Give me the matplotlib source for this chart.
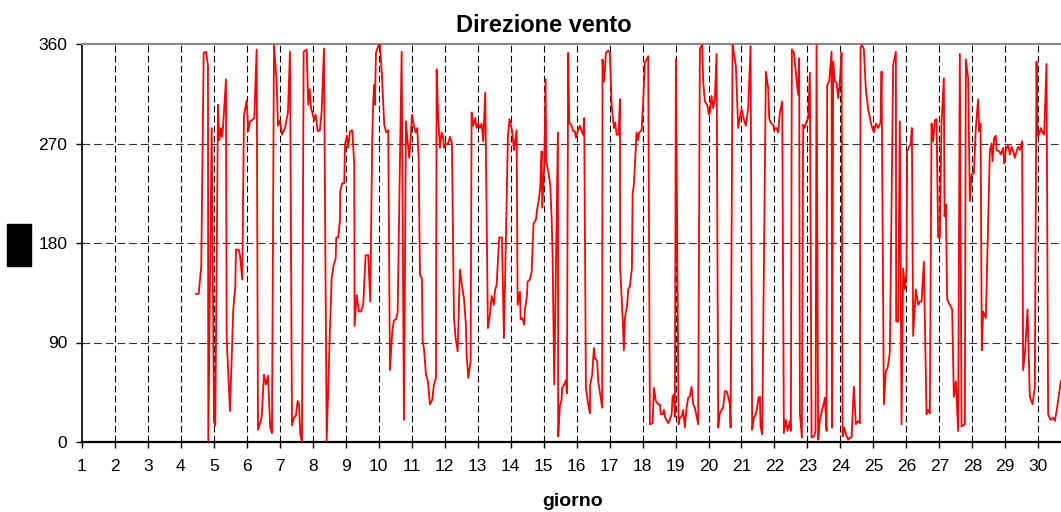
import matplotlib
matplotlib.use("Agg")
import matplotlib.pyplot as plt
from matplotlib.patches import Rectangle

# ======================================================
# DATA  (giorno = day of month, gradi = wind direction)
# ======================================================
giorno = [
    4.457, 4.539, 4.617, 4.690, 4.760, 4.820, 4.830, 4.933, 5.002, 5.042,
    5.124, 5.163, 5.215, 5.245, 5.275, 5.366, 5.387, 5.488, 5.588, 5.648,
    5.669, 5.751, 5.791, 5.860, 5.912, 5.994, 6.042, 6.094, 6.155, 6.224,
    6.297, 6.337, 6.449, 6.518, 6.579, 6.640, 6.709, 6.761, 6.822, 6.903,
    6.943, 7.004, 7.064, 7.155, 7.246, 7.307, 7.368, 7.428, 7.489, 7.540,
    7.580, 7.619, 7.671, 7.722, 7.813, 7.862, 7.904, 7.944, 7.983, 8.044,
    8.086, 8.147, 8.216, 8.268, 8.338, 8.420, 8.520, 8.571, 8.632, 8.693,
    8.711, 8.771, 8.823, 8.832, 8.893, 8.953, 8.975, 9.035, 9.075, 9.126,
    9.196, 9.257, 9.266, 9.329, 9.399, 9.460, 9.529, 9.602, 9.681, 9.742,
    9.802, 9.833, 9.863, 9.884, 9.915, 9.984, 10.036, 10.096, 10.166, 10.227,
    10.287, 10.339, 10.409, 10.460, 10.521, 10.572, 10.694, 10.763, 10.824, 10.864,
    10.924, 10.967, 11.006, 11.067, 11.118, 11.167, 11.209, 11.249, 11.309, 11.331,
    11.370, 11.431, 11.491, 11.552, 11.622, 11.673, 11.734, 11.755, 11.804, 11.855,
    11.907, 11.955, 11.976, 12.037, 12.107, 12.158, 12.219, 12.280, 12.331, 12.392,
    12.461, 12.522, 12.583, 12.643, 12.665, 12.713, 12.786, 12.816, 12.865, 12.925,
    12.968, 13.016, 13.068, 13.119, 13.168, 13.229, 13.310, 13.371, 13.423, 13.492,
    13.523, 13.574, 13.653, 13.735, 13.796, 13.917, 13.968, 14.047, 14.099, 14.181,
    14.211, 14.281, 14.302, 14.351, 14.411, 14.432, 14.493, 14.514, 14.584, 14.636,
    14.696, 14.766, 14.796, 14.848, 14.896, 14.939, 14.957, 15.018, 15.060, 15.078,
    15.139, 15.200, 15.242, 15.272, 15.321, 15.433, 15.442, 15.494, 15.545, 15.563,
    15.624, 15.676, 15.706, 15.745, 15.776, 15.848, 15.897, 15.948, 15.979, 16.030,
    16.100, 16.152, 16.200, 16.230, 16.282, 16.352, 16.403, 16.412, 16.473, 16.525,
    16.555, 16.625, 16.655, 16.776, 16.785, 16.837, 16.888, 16.958, 17.010, 17.061,
    17.131, 17.170, 17.213, 17.273, 17.313, 17.322, 17.395, 17.434, 17.464, 17.534,
    17.565, 17.616, 17.677, 17.698, 17.737, 17.768, 17.819, 17.868, 17.898, 17.971,
    18.019, 18.071, 18.122, 18.171, 18.223, 18.304, 18.344, 18.404, 18.474, 18.526,
    18.556, 18.608, 18.647, 18.687, 18.747, 18.778, 18.829, 18.881, 18.911, 18.950,
    18.981, 19.011, 19.093, 19.132, 19.184, 19.232, 19.284, 19.335, 19.384, 19.435,
    19.487, 19.536, 19.587, 19.687, 19.739, 19.808, 19.839, 19.890, 19.960, 20.012,
    20.042, 20.093, 20.142, 20.193, 20.245, 20.294, 20.345, 20.397, 20.445, 20.497,
    20.548, 20.597, 20.648, 20.670, 20.730, 20.779, 20.830, 20.900, 20.952, 21.003,
    21.073, 21.133, 21.203, 21.276, 21.324, 21.376, 21.437, 21.476, 21.518, 21.558,
    21.579, 21.628, 21.740, 21.810, 21.840, 21.882, 21.961, 21.992, 22.064, 22.113,
    22.164, 22.234, 22.286, 22.346, 22.398, 22.468, 22.498, 22.528, 22.589, 22.650,
    22.719, 22.750, 22.771, 22.831, 22.871, 22.922, 22.974, 23.022, 23.074, 23.126,
    23.195, 23.247, 23.277, 23.326, 23.377, 23.438, 23.498, 23.529, 23.580, 23.599,
    23.659, 23.732, 23.750, 23.781, 23.832, 23.884, 23.932, 23.984, 24.035, 24.066,
    24.114, 24.166, 24.235, 24.287, 24.338, 24.408, 24.469, 24.539, 24.590, 24.611,
    24.660, 24.711, 24.772, 24.842, 24.945, 25.015, 25.075, 25.145, 25.218, 25.248,
    25.318, 25.378, 25.430, 25.479, 25.500, 25.600, 25.682, 25.691, 25.751, 25.803,
    25.854, 25.903, 25.955, 26.006, 26.024, 26.085, 26.127, 26.167, 26.206, 26.288,
    26.358, 26.409, 26.461, 26.531, 26.612, 26.661, 26.713, 26.764, 26.813, 26.864,
    26.916, 26.964, 27.016, 27.067, 27.137, 27.158, 27.198, 27.237, 27.319, 27.389,
    27.440, 27.501, 27.571, 27.622, 27.674, 27.774, 27.804, 27.874, 27.925, 27.977,
    28.047, 28.107, 28.177, 28.207, 28.250, 28.289, 28.329, 28.411, 28.532, 28.583,
    28.614, 28.662, 28.714, 28.735, 28.814, 28.865, 28.935, 28.965, 29.017, 29.087,
    29.138, 29.190, 29.238, 29.290, 29.341, 29.390, 29.441, 29.511, 29.542, 29.602,
    29.675, 29.745, 29.827, 29.896, 29.948, 29.978, 30.027, 30.078, 30.130, 30.178,
    30.251, 30.300, 30.372, 30.451, 30.503, 30.563, 30.685,
]

gradi = [
    134, 134, 159, 352, 353, 341, 1, 284, 19, 15,
    305, 273, 284, 276, 284, 328, 94, 28, 120, 140,
    174, 174, 169, 147, 295, 309, 281, 290, 291, 293,
    355, 11, 22, 61, 52, 60, 13, 8, 359, 326,
    286, 291, 278, 284, 298, 353, 15, 22, 24, 37,
    35, 7, 0, 353, 355, 305, 319, 302, 298, 291,
    296, 281, 282, 299, 356, 1, 102, 148, 160, 166,
    185, 185, 201, 227, 234, 234, 269, 277, 266, 281,
    282, 251, 105, 133, 118, 118, 124, 169, 169, 127,
    275, 309, 323, 305, 352, 358, 360, 332, 287, 280,
    282, 65, 100, 110, 111, 117, 353, 20, 290, 275,
    257, 275, 296, 286, 280, 284, 257, 151, 148, 91,
    85, 61, 55, 34, 38, 52, 58, 337, 293, 266,
    280, 275, 266, 270, 270, 276, 270, 112, 94, 82,
    156, 142, 130, 106, 79, 58, 73, 298, 286, 293,
    284, 288, 284, 288, 272, 316, 103, 115, 132, 124,
    137, 142, 185, 185, 94, 277, 292, 281, 264, 282,
    124, 136, 111, 112, 106, 120, 132, 145, 147, 154,
    198, 201, 209, 218, 230, 263, 212, 249, 328, 254,
    245, 233, 203, 169, 52, 280, 5, 33, 38, 49,
    52, 56, 44, 352, 289, 286, 281, 281, 275, 281,
    286, 281, 278, 293, 49, 34, 26, 52, 61, 85,
    76, 73, 55, 31, 346, 326, 352, 354, 352, 305,
    284, 289, 278, 278, 310, 157, 112, 83, 112, 124,
    138, 141, 157, 224, 233, 251, 280, 273, 280, 282,
    308, 343, 346, 349, 16, 17, 49, 37, 34, 34,
    25, 25, 29, 22, 19, 17, 20, 25, 41, 43,
    23, 346, 16, 22, 23, 29, 13, 31, 40, 41,
    50, 34, 31, 16, 356, 359, 326, 308, 305, 296,
    298, 313, 302, 311, 351, 13, 26, 29, 31, 46,
    46, 41, 34, 13, 359, 350, 340, 284, 293, 301,
    292, 286, 302, 358, 11, 22, 25, 31, 40, 41,
    14, 7, 335, 320, 293, 289, 287, 282, 284, 280,
    298, 308, 8, 20, 10, 19, 10, 355, 352, 334,
    314, 347, 26, 4, 287, 284, 290, 293, 334, 4,
    5, 10, 359, 2, 20, 28, 35, 40, 10, 323,
    326, 353, 13, 344, 326, 325, 311, 326, 352, 5,
    13, 7, 2, 4, 4, 50, 16, 19, 17, 357,
    359, 355, 319, 301, 286, 280, 288, 284, 289, 335,
    34, 64, 67, 76, 82, 341, 353, 109, 109, 290,
    16, 157, 138, 154, 263, 267, 269, 284, 96, 138,
    124, 127, 127, 163, 25, 29, 26, 288, 272, 291,
    292, 185, 185, 289, 329, 204, 215, 129, 124, 120,
    41, 55, 10, 351, 14, 16, 346, 329, 218, 242,
    243, 284, 310, 281, 288, 83, 118, 112, 263, 270,
    254, 275, 277, 264, 263, 260, 266, 252, 264, 269,
    260, 267, 263, 257, 263, 267, 264, 272, 65, 82,
    120, 41, 34, 50, 344, 277, 278, 284, 280, 278,
    342, 25, 20, 22, 19, 29, 55,
]

giorni_ticks = list(range(1, 31))
gradi_ticks = [0, 90, 180, 270, 360]

# ======================================================
# FIGURE
# ======================================================
plt.rcParams["font.family"] = ["Liberation Sans", "DejaVu Sans"]

W, H = 1061, 512
fig = plt.figure(figsize=(W / 100, H / 100), dpi=100)
ax = fig.add_axes([82 / W, 70 / H, 979 / W, 398 / H])

# dashed grid
for d in giorni_ticks[1:]:
    ax.axvline(d, color="black", lw=0.8, dashes=(6, 3), zorder=1)
for g in gradi_ticks[1:-1]:
    ax.axhline(g, color="#333333", lw=0.8, dashes=(7, 3.5), zorder=1)

ax.plot(giorno, gradi, color="#ff0000", lw=1.3, zorder=3)

ax.set_xlim(1, 30.69)
ax.set_ylim(0, 360)
ax.set_xticks(giorni_ticks)
ax.set_yticks(gradi_ticks)
ax.tick_params(axis="x", direction="out", length=4.5, width=1, pad=8, labelsize=12.5)
ax.tick_params(axis="y", direction="out", length=4.5, width=1, pad=6, labelsize=12.5)

ax.spines["right"].set_visible(False)
ax.spines["top"].set_color("#888888")
ax.spines["top"].set_linewidth(1.6)
ax.spines["bottom"].set_linewidth(1.6)
ax.spines["left"].set_linewidth(1.2)

# titles
fig.text(544 / W, (H - 32) / H, "Direzione vento", ha="center", va="baseline",
         fontsize=17, fontweight="bold")
fig.text(573 / W, 6 / H, "giorno", ha="center", va="baseline",
         fontsize=14, fontweight="bold")

# black box where the y label sits
fig.add_artist(Rectangle((7 / W, (H - 266) / H), 24 / W, 42 / H,
                         transform=fig.transFigure, color="black"))

fig.savefig("out.png", dpi=100)
